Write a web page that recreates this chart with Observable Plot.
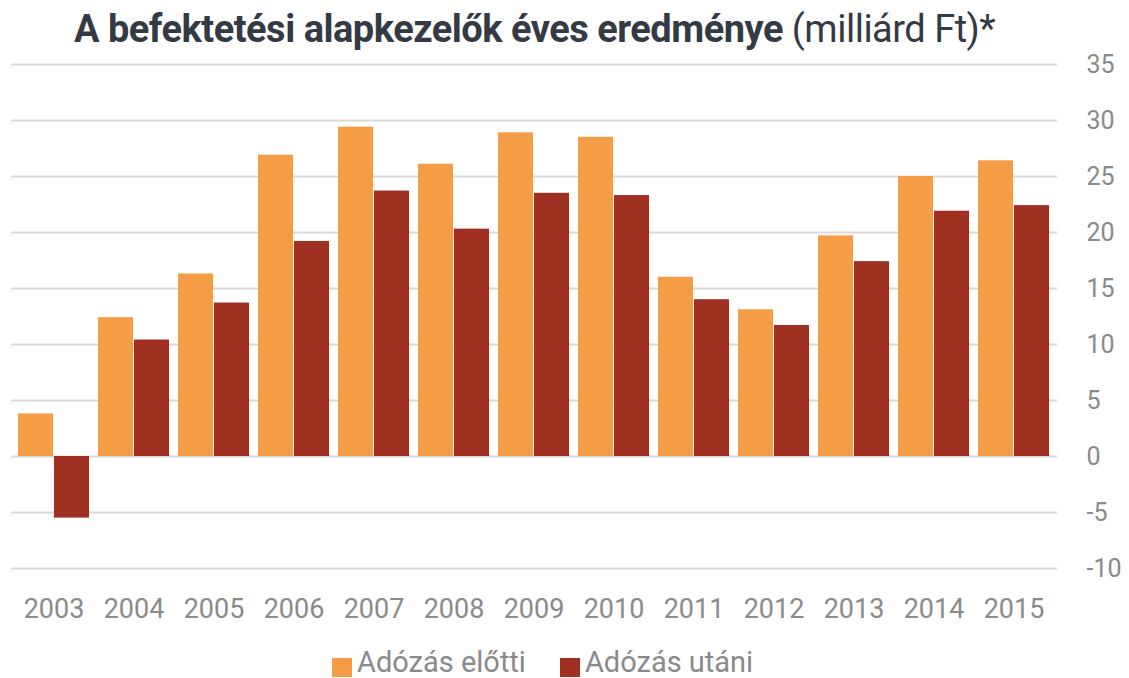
<!DOCTYPE html>
<html>
<head>
<meta charset="utf-8">
<script src="https://cdn.jsdelivr.net/npm/d3@7"></script>
<script src="https://cdn.jsdelivr.net/npm/@observablehq/plot@0.6"></script>
<style>
  html, body { margin: 0; padding: 0; background: #fff; }
  body { width: 1129px; height: 678px; position: relative; overflow: hidden; font-family: Roboto, "Noto Sans", sans-serif; }
  #title { position: absolute; left: 74px; top: 10px; font-size: 38px; line-height: 38px; color: #343a44; white-space: nowrap; letter-spacing: -0.5px; }
  #title b { font-weight: 700; }
  #title span { font-weight: 400; }
  #chart { position: absolute; left: 0; top: 48px; }
  #legend { position: absolute; left: 332px; top: 648px; display: flex; font-size: 29px; line-height: 29px; color: #8a8a8a; }
  .item { display: flex; align-items: flex-end; margin-right: 34px; }
  .sw { width: 20px; height: 19px; margin-right: 5px; margin-bottom: 0px; }
</style>
</head>
<body>
<div id="title"><b>A befektetési alapkezelők éves eredménye</b><span> (milliárd Ft)*</span></div>
<div id="chart"></div>
<div id="legend"></div>
<script>
const years = ["2003","2004","2005","2006","2007","2008","2009","2010","2011","2012","2013","2014","2015"];
const beforeTax = [3.8, 12.4, 16.3, 26.9, 29.4, 26.1, 28.9, 28.5, 16.0, 13.1, 19.7, 25.0, 26.4];
const afterTax = [-5.5, 10.4, 13.7, 19.2, 23.7, 20.3, 23.5, 23.3, 14.0, 11.7, 17.4, 21.9, 22.4];
const seriesNames = ["Adózás előtti", "Adózás utáni"];
const seriesColors = ["#f59c47", "#a03022"];
const yTicks = [-10, -5, 0, 5, 10, 15, 20, 25, 30, 35];

const data = [];
years.forEach((y, i) => {
  data.push({year: y, series: seriesNames[0], value: beforeTax[i]});
  data.push({year: y, series: seriesNames[1], value: afterTax[i]});
});

const W = 1129, H = 580, ML = 11, MR = 72, MT = 16, MB = 60;
const padIn = 0.107, padOut = 0.05;
const step = (W - ML - MR) / (years.length - padIn + 2 * padOut);
const half = step * (1 - padIn) / 2;

const chart = Plot.plot({
  width: W, height: H,
  marginLeft: ML, marginRight: MR, marginTop: MT, marginBottom: MB,
  style: {fontFamily: "Roboto, sans-serif", background: "transparent"},
  x: {domain: years, paddingInner: padIn, paddingOuter: padOut, label: null},
  y: {domain: [-10, 35], label: null},
  color: {domain: seriesNames, range: seriesColors},
  marks: [
    Plot.gridY(yTicks, {stroke: "#d9d9d9", strokeOpacity: 1, strokeWidth: 2}),
    Plot.barY(data.filter(d => d.series === seriesNames[0]), {x: "year", y: "value", fill: "series", insetRight: half}),
    Plot.barY(data.filter(d => d.series === seriesNames[1]), {x: "year", y: "value", fill: "series", insetLeft: half}),
    Plot.axisX({tickSize: 0, tickPadding: 30, fontSize: 27, fill: "#8a8a8a", label: null}),
    Plot.axisY(yTicks, {anchor: "right", tickSize: 0, tickPadding: 29, textAnchor: "start", fontSize: 25, fill: "#8a8a8a", label: null, tickFormat: d => String(d)})
  ]
});
document.getElementById("chart").appendChild(chart);

const legend = document.getElementById("legend");
seriesNames.forEach((name, i) => {
  const item = document.createElement("div");
  item.className = "item";
  const sw = document.createElement("div");
  sw.className = "sw";
  sw.style.background = seriesColors[i];
  const t = document.createElement("span");
  t.textContent = name;
  item.appendChild(sw);
  item.appendChild(t);
  legend.appendChild(item);
});
</script>
</body>
</html>
